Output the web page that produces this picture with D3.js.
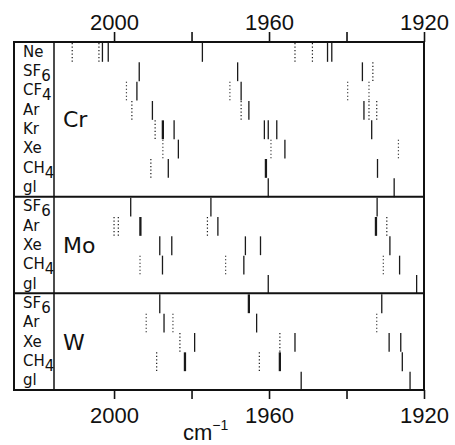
<!DOCTYPE html>
<html lang="en">
<head>
<meta charset="utf-8">
<title>Carbonyl stretching bands in matrices</title>
<script src="https://cdn.jsdelivr.net/npm/d3@7"></script>
<style>
body { margin: 0; background: #fff; }
.lab { font-family: "DejaVu Sans", sans-serif; fill: #111; }
.tick text { font-family: "Liberation Sans", Arial, sans-serif; font-size: 22px; fill: #111; }
</style>
</head>
<body>
<script>
var w = 455, h = 445;

// x axis (wavenumber, cm-1)
var xDomain = [2015.5, 1920];
var tickVals = [2000, 1980, 1960, 1940, 1920];
var tickLabels = [2000, 1960, 1920];

// rows of each panel (matrix); band = [row, cm-1, style]  s solid, d dotted, t heavy
var metals = ["Cr", "Mo", "W"];

var crRows = ["Ne", "SF6", "CF4", "Ar", "Kr", "Xe", "CH4", "gl"];
var crBands = [
  ["Ne", 2010.8, "d"], ["Ne", 2003.9, "d"], ["Ne", 2003.0, "s"], ["Ne", 2001.5, "s"],
  ["Ne", 1977.2, "s"], ["Ne", 1953.3, "d"], ["Ne", 1948.8, "d"], ["Ne", 1944.9, "s"], ["Ne", 1943.8, "s"],
  ["SF6", 1993.5, "s"], ["SF6", 1968.1, "s"], ["SF6", 1935.9, "s"], ["SF6", 1933.2, "d"],
  ["CF4", 1996.8, "d"], ["CF4", 1994.1, "s"], ["CF4", 1970.1, "d"], ["CF4", 1967.2, "s"],
  ["CF4", 1939.7, "d"], ["CF4", 1934.2, "d"],
  ["Ar", 1995.4, "d"], ["Ar", 1990.1, "s"], ["Ar", 1967.2, "d"], ["Ar", 1965.2, "s"],
  ["Ar", 1935.5, "s"], ["Ar", 1934.2, "d"], ["Ar", 1932.2, "d"],
  ["Kr", 1989.4, "d"], ["Kr", 1987.4, "t"], ["Kr", 1984.5, "s"], ["Kr", 1961.2, "s"],
  ["Kr", 1960.2, "s"], ["Kr", 1958.0, "s"], ["Kr", 1933.5, "s"],
  ["Xe", 1987.4, "d"], ["Xe", 1983.4, "s"], ["Xe", 1959.5, "d"], ["Xe", 1955.9, "s"], ["Xe", 1926.6, "d"],
  ["CH4", 1990.5, "d"], ["CH4", 1986.0, "s"], ["CH4", 1960.8, "t"], ["CH4", 1932.0, "s"],
  ["gl", 1960.2, "s"], ["gl", 1927.7, "s"]
];

var moRows = ["SF6", "Ar", "Xe", "CH4", "gl"];
var moBands = [
  ["SF6", 1995.7, "s"], ["SF6", 1975.0, "s"], ["SF6", 1932.1, "s"],
  ["Ar", 2000.0, "d"], ["Ar", 1998.9, "d"], ["Ar", 1993.2, "t"], ["Ar", 1975.9, "d"],
  ["Ar", 1973.2, "s"], ["Ar", 1932.4, "t"], ["Ar", 1929.6, "d"],
  ["Xe", 1988.2, "s"], ["Xe", 1985.1, "s"], ["Xe", 1966.1, "s"], ["Xe", 1962.2, "s"], ["Xe", 1928.8, "s"],
  ["CH4", 1993.3, "d"], ["CH4", 1987.5, "s"], ["CH4", 1971.2, "d"], ["CH4", 1966.5, "s"],
  ["CH4", 1930.5, "d"], ["CH4", 1926.3, "s"],
  ["gl", 1960.2, "s"], ["gl", 1921.9, "s"]
];

var wRows = ["SF6", "Ar", "Xe", "CH4", "gl"];
var wBands = [
  ["SF6", 1988.2, "s"], ["SF6", 1965.2, "t"], ["SF6", 1930.9, "s"],
  ["Ar", 1991.7, "d"], ["Ar", 1987.1, "s"], ["Ar", 1984.8, "d"], ["Ar", 1963.2, "s"], ["Ar", 1932.2, "d"],
  ["Xe", 1983.0, "d"], ["Xe", 1979.2, "s"], ["Xe", 1957.2, "d"], ["Xe", 1953.3, "s"],
  ["Xe", 1929.0, "s"], ["Xe", 1926.0, "s"],
  ["CH4", 1989.0, "d"], ["CH4", 1981.7, "t"], ["CH4", 1962.5, "d"], ["CH4", 1957.2, "t"], ["CH4", 1925.6, "s"],
  ["gl", 1951.7, "s"], ["gl", 1923.6, "s"]
];

var panels = [
  {metal: metals[0], rows: crRows, bands: crBands},
  {metal: metals[1], rows: moRows, bands: moBands},
  {metal: metals[2], rows: wRows, bands: wBands}
];

var frameLeft = 14, labRight = 54, plotRight = 424;
var plotTop = 42, plotBottom = 390;

var x = d3.scaleLinear().domain(xDomain).range([labRight, plotRight]);
var nRows = d3.sum(panels, function(p) { return p.rows.length; });
var rowY = d3.scaleLinear().domain([0, nRows]).range([plotTop, plotBottom]);

var svg = d3.select("body").append("svg")
  .attr("width", w)
  .attr("height", h);

var start = 0;
panels.forEach(function(p, pi) {
  var y = d3.scaleBand()
    .domain(p.rows)
    .range([rowY(start), rowY(start + p.rows.length)]);
  var g = svg.append("g");

  // bands
  g.selectAll("line.band")
    .data(p.bands)
    .enter()
    .append("line")
    .attr("class", "band")
    .attr("x1", function(d) { return x(d[1]); })
    .attr("x2", function(d) { return x(d[1]); })
    .attr("y1", function(d) { return y(d[0]) + 1; })
    .attr("y2", function(d) { return y(d[0]) + y.bandwidth() + 0.5; })
    .attr("stroke", "#1a1a1a")
    .attr("stroke-width", function(d) { return d[2] == "t" ? 2.3 : (d[2] == "d" ? 1.2 : 1.3); })
    .attr("stroke-dasharray", function(d) { return d[2] == "d" ? "1.2,2.3" : null; });

  // matrix labels, digits as subscripts
  g.selectAll("text.row")
    .data(p.rows)
    .enter()
    .append("text")
    .attr("class", "lab")
    .attr("x", 23)
    .attr("y", function(d) { return y(d) + y.bandwidth() / 2 + 5; })
    .attr("font-size", "15px")
    .each(function(d) {
      var m = d.match(/^([A-Za-z]+)(\d*)$/);
      var t = d3.select(this);
      t.append("tspan").text(m[1]);
      if (m[2]) t.append("tspan").attr("dy", 5).text(m[2]);
    });

  // metal name
  g.append("text")
    .attr("class", "lab")
    .attr("x", 63)
    .attr("y", (y.range()[0] + y.range()[1]) / 2 + 8)
    .attr("font-size", "22px")
    .text(p.metal);

  // panel divider
  if (pi > 0) {
    svg.append("line")
      .attr("x1", frameLeft).attr("x2", plotRight)
      .attr("y1", rowY(start)).attr("y2", rowY(start))
      .attr("stroke", "#111").attr("stroke-width", 2);
  }
  start += p.rows.length;
});

// frame
svg.append("rect")
  .attr("x", frameLeft).attr("y", plotTop)
  .attr("width", plotRight - frameLeft).attr("height", plotBottom - plotTop)
  .attr("fill", "none").attr("stroke", "#111").attr("stroke-width", 2);
svg.append("line")
  .attr("x1", labRight).attr("x2", labRight)
  .attr("y1", plotTop).attr("y2", plotBottom)
  .attr("stroke", "#111").attr("stroke-width", 1.5);

// axes
var fmt = function(d) { return tickLabels.indexOf(d) >= 0 ? d : ""; };
var xTop = d3.axisTop(x).tickValues(tickVals).tickSize(10).tickPadding(2).tickFormat(fmt);
var xBot = d3.axisBottom(x).tickValues(tickVals).tickSize(9).tickPadding(8).tickFormat(fmt);

var gt = svg.append("g").attr("transform", "translate(0," + plotTop + ")").call(xTop);
var gb = svg.append("g").attr("transform", "translate(0," + plotBottom + ")").call(xBot);
[gt, gb].forEach(function(a) {
  a.select(".domain").remove();
  a.selectAll(".tick line").attr("stroke", "#111").attr("stroke-width", 1.6);
});

// unit
var unit = svg.append("text")
  .attr("x", 183).attr("y", 440)
  .style("font-family", "'Liberation Sans', Arial, sans-serif")
  .style("font-size", "22px")
  .attr("fill", "#111");
unit.append("tspan").text("cm");
unit.append("tspan").attr("dy", -10).style("font-size", "14px").text("\u22121");
</script>
</body>
</html>
